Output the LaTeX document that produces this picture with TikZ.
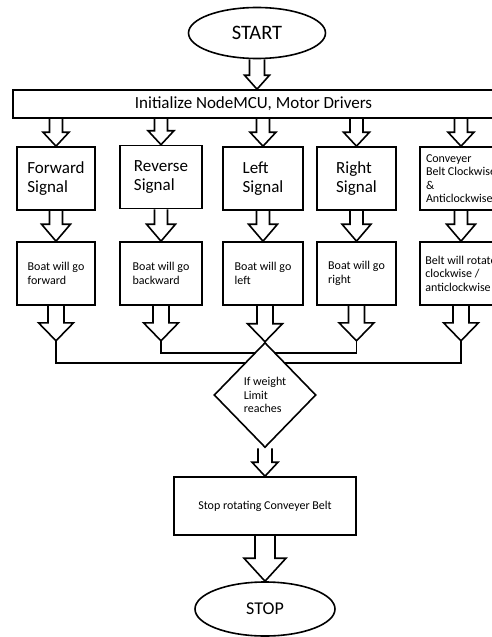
\documentclass[tikz,border=0pt]{standalone}
\usepackage{fontspec}
\setmainfont{Carlito}
\usetikzlibrary{calc}
\usetikzlibrary{shapes.geometric}
\tikzset{term/.style={draw, ellipse, line width=1.6pt, inner sep=0pt}}
\tikzset{box/.style={draw, rectangle, line width=1.6pt, inner sep=0pt, align=left}}
\tikzset{big/.style={font=\fontsize{17}{19}\selectfont}}
\tikzset{small/.style={font=\fontsize{12}{13.5}\selectfont}}
\tikzset{dec/.style={draw, diamond, fill=white, line width=1.6pt, inner sep=0pt, align=left, minimum width=102pt, minimum height=105pt, font=\fontsize{12}{13.5}\selectfont}}
\tikzset{harrow/.style={line width=1.6pt, line join=miter}}
\tikzset{link/.style={line width=1.6pt}}

% hollow block arrow: from, to, shaft half width, head half width, head length
\newcommand{\hollowarrow}[5]{%
\draw[harrow] let \p1=(#1), \p2=(#2) in
 (\x2-#3pt,\y1) -- (\x2-#3pt,\y2+#5pt) -- (\x2-#4pt,\y2+#5pt) -- (\x2,\y2)
 -- (\x2+#4pt,\y2+#5pt) -- (\x2+#3pt,\y2+#5pt) -- (\x2+#3pt,\y1);
}

\begin{document}
\begin{tikzpicture}[x=1pt,y=-1pt]
\useasboundingbox (0,0) rectangle (492,637);
\clip (0,0) rectangle (492,637);

\node[term, font=\fontsize{20.5}{22}\selectfont, minimum width=137pt, minimum height=51pt] (start) at (257,33) {START};
\node[box, big, align=center, minimum width=481pt, minimum height=28pt] (init) at (253.5,104) {Initialize NodeMCU, Motor Drivers};

\node[box, big, minimum width=78pt, minimum height=63pt] (sig1) at (56,178.5) {Forward\\Signal};
\node[box, big, minimum width=82pt, minimum height=63pt] (sig2) at (161,177) {Reverse\\Signal};
\node[box, big, minimum width=80pt, minimum height=63pt] (sig3) at (263,178.5) {Left\\Signal};
\node[box, big, minimum width=79pt, minimum height=63pt] (sig4) at (356.5,178.5) {Right\\Signal};
\node[box, small, minimum width=82pt, minimum height=63pt] (sig5) at (461,178.5) {Conveyer\\Belt Clockwise\\\&\\Anticlockwise};

\node[box, small, minimum width=78pt, minimum height=63pt] (act1) at (56,273.5) {Boat will go\\forward};
\node[box, small, minimum width=82pt, minimum height=63pt] (act2) at (161,273.5) {Boat will go\\backward};
\node[box, small, minimum width=80pt, minimum height=63pt] (act3) at (263,273.5) {Boat will go\\left};
\node[box, small, minimum width=79pt, minimum height=63pt] (act4) at (356.5,273.5) {Boat will go\\right};
\node[box, small, minimum width=82pt, minimum height=63pt] (act5) at (461,273.5) {Belt will rotate\\clockwise /\\anticlockwise};

\coordinate (t1) at ($(act1.south)+(0,35)$);
\coordinate (t2) at ($(act2.south)+(0,35)$);
\coordinate (t4) at ($(act4.south)+(0,35)$);
\coordinate (t5) at ($(act5.south)+(0,35)$);

\draw[link] (t1) -- ++(0,22) -| (t5);
\draw[link] (t2) -- ++(0,12) -| (t4);

\node[dec] (dec) at (265,395) {If weight\\Limit\\reaches};
\node[box, small, align=center, minimum width=182pt, minimum height=58pt] (halt) at (265,506) {Stop rotating Conveyer Belt};
\node[term, font=\fontsize{18}{20}\selectfont, minimum width=140pt, minimum height=54pt] (stop) at (265,609) {STOP};

\hollowarrow{start.south}{start.south |- init.north}{7.5}{12.5}{14}
\foreach \i in {1,...,5}{
 \hollowarrow{init.south}{sig\i.north}{6.5}{13}{14}
 \hollowarrow{sig\i.south}{act\i.north}{6.5}{14.5}{17}
}
\hollowarrow{act1.south}{t1}{8}{17.5}{18}
\hollowarrow{act2.south}{t2}{8}{17.5}{18}
\hollowarrow{act3.south}{dec.north}{8}{17.5}{18}
\hollowarrow{act4.south}{t4}{8}{17.5}{18}
\hollowarrow{act5.south}{t5}{8}{17.5}{18}
\hollowarrow{dec.south}{halt.north}{7}{13}{14}
\hollowarrow{halt.south}{stop.north}{10}{21}{23}

\end{tikzpicture}
\end{document}
